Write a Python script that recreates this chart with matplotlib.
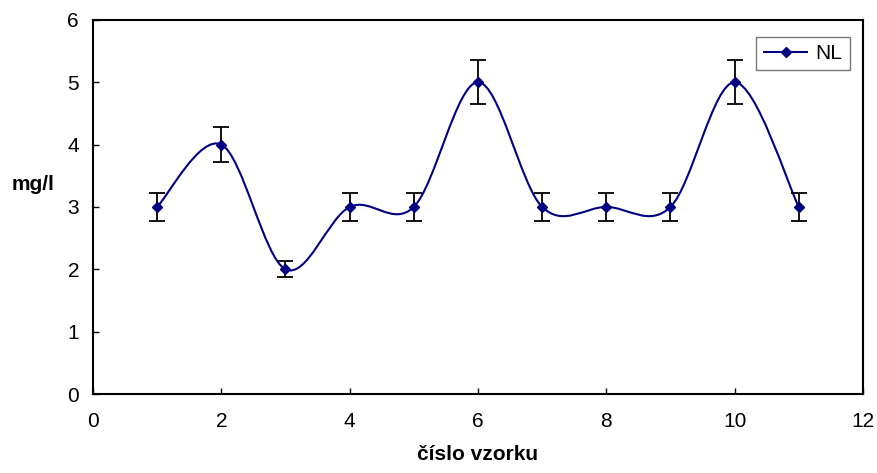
import numpy as np
import matplotlib.pyplot as plt
from matplotlib.path import Path
from matplotlib.patches import PathPatch
from matplotlib.lines import Line2D

plt.rcParams['font.family'] = ['Liberation Sans', 'DejaVu Sans']

# data
vzorek = [1, 2, 3, 4, 5, 6, 7, 8, 9, 10, 11]
nl = [3, 4, 2, 3, 3, 5, 3, 3, 3, 5, 3]
chyba = [0.22, 0.28, 0.13, 0.22, 0.22, 0.35, 0.22, 0.22, 0.22, 0.35, 0.22]

line_col = '#000080'

fig = plt.figure(figsize=(8.77, 4.73), dpi=100)
ax = fig.add_axes([0.106, 0.167, 0.878, 0.791])

# Excel-like smoothed line: cubic bezier segments (Catmull-Rom control points)
pts = np.column_stack([vzorek, nl]).astype(float)
ext = np.vstack([pts[0], pts, pts[-1]])
verts = [tuple(pts[0])]
codes = [Path.MOVETO]
for i in range(len(pts) - 1):
    p_prev, p0, p1, p_next = ext[i], ext[i + 1], ext[i + 2], ext[i + 3]
    c1 = p0 + (p1 - p_prev) / 6.0
    c2 = p1 - (p_next - p0) / 6.0
    verts += [tuple(c1), tuple(c2), tuple(p1)]
    codes += [Path.CURVE4] * 3
ax.add_patch(PathPatch(Path(verts, codes), facecolor='none',
                       edgecolor=line_col, lw=1.5, zorder=2))

ax.errorbar(vzorek, nl, yerr=chyba, fmt='none', ecolor='black',
            elinewidth=1.3, capsize=6, capthick=1.3, zorder=3)
ax.plot(vzorek, nl, linestyle='none', marker='D', markersize=5.5,
        color=line_col, zorder=4)

ax.set_xlim(0, 12)
ax.set_ylim(0, 6)
ax.set_xticks(range(0, 13, 2))
ax.set_yticks(range(0, 7))
ax.tick_params(direction='in', length=4, width=1, labelsize=15, pad=13)
ax.tick_params(axis='y', pad=10)
for s in ax.spines.values():
    s.set_linewidth(1.5)

ax.set_xlabel('číslo vzorku', fontsize=15, fontweight='bold', va='center')
ax.xaxis.set_label_coords(0.5, -0.163)
ax.set_ylabel('mg/l', fontsize=15, fontweight='bold', rotation=0,
              ha='center', va='center')
ax.yaxis.set_label_coords(-0.078, 0.56)

handle = Line2D([], [], color=line_col, lw=1.5, marker='D', markersize=5.5)
leg = ax.legend([handle], ['NL'], loc='upper right', fontsize=15,
                bbox_to_anchor=(0.983, 0.955), borderaxespad=0,
                fancybox=False, edgecolor='#555555', handlelength=2.1,
                borderpad=0.35, handletextpad=0.4)
leg.get_frame().set_linewidth(1.0)

fig.savefig('out.png', dpi=100)
